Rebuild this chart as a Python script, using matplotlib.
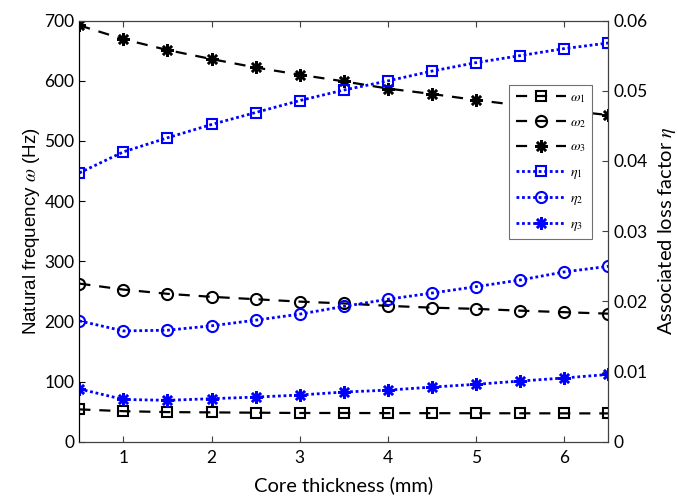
import matplotlib
matplotlib.use("Agg")
import matplotlib.pyplot as plt

thickness = [0.5, 1.0, 1.5, 2.0, 2.5, 3.0, 3.5, 4.0, 4.5, 5.0, 5.5, 6.0, 6.5]
omega1 = [54, 51, 49.5, 49, 48.5, 48, 48, 47.8, 47.7, 47.6, 47.5, 47.4, 47.3]
omega2 = [263, 253, 246, 241, 237, 233, 230, 226, 223, 221, 218, 215.5, 213]
omega3 = [692, 669, 651, 636, 622, 610, 599, 587, 578, 568, 559, 551, 543]
eta1 = [0.0383, 0.0413, 0.0433, 0.0452, 0.0469, 0.0486, 0.0501, 0.0514, 0.0528, 0.0540, 0.0550, 0.0560, 0.0568]
eta2 = [0.01723, 0.0158, 0.0159, 0.01653, 0.01733, 0.01819, 0.01929, 0.02031, 0.02119, 0.0221, 0.02305, 0.0242, 0.0250]
eta3 = [0.00754, 0.00604, 0.00592, 0.00615, 0.00638, 0.00667, 0.0071, 0.00737, 0.0078, 0.0082, 0.00866, 0.0091, 0.0096]

plt.rcParams['font.family'] = ['Lato', 'DejaVu Sans']
plt.rcParams['mathtext.fontset'] = 'stix'

fig = plt.figure(figsize=(6.78, 5.01), dpi=100)
ax = fig.add_axes([0.117, 0.118, 0.78, 0.841])
ax2 = ax.twinx()

asterisk = (8, 2, 0)
ms = 7
lw = 1.6
dash = (0, (5, 4))
dot = (0, (1, 1))

l1, = ax.plot(thickness, omega1, color='black', ls=dash, lw=lw, marker='s', mfc='none', mec='black', ms=ms, mew=1.5)
l2, = ax.plot(thickness, omega2, color='black', ls=dash, lw=lw, marker='o', mfc='none', mec='black', ms=ms + 1, mew=1.5)
l3, = ax.plot(thickness, omega3, color='black', ls=dash, lw=lw, marker=asterisk, mec='black', ms=ms + 2, mew=1.8)

l4, = ax2.plot(thickness, eta1, color='blue', ls=dot, lw=lw + 0.4, marker='s', mfc='none', mec='blue', ms=ms, mew=1.5)
l5, = ax2.plot(thickness, eta2, color='blue', ls=dot, lw=lw + 0.4, marker='o', mfc='none', mec='blue', ms=ms + 1, mew=1.5)
l6, = ax2.plot(thickness, eta3, color='blue', ls=dot, lw=lw + 0.4, marker=asterisk, mec='blue', ms=ms + 2, mew=1.8)

ax.set_xlim(0.5, 6.5)
ax.set_ylim(0, 700)
ax2.set_ylim(0, 0.06)
ax.set_xticks([1, 2, 3, 4, 5, 6])
ax.set_yticks(range(0, 701, 100))
ax2.set_yticks([0, 0.01, 0.02, 0.03, 0.04, 0.05, 0.06])
ax2.set_yticklabels(['0', '0.01', '0.02', '0.03', '0.04', '0.05', '0.06'])

for a in (ax, ax2):
    a.tick_params(direction='in', labelsize=12.5, length=4, width=0.8)
ax.tick_params(axis='x', top=True, colors='#404040', labelcolor='black', pad=6)
ax.tick_params(axis='y', colors='black', labelcolor='black')
ax2.tick_params(axis='y', colors='#404040', labelcolor='black')

ax2.spines['left'].set_color('black')
ax2.spines['right'].set_color('#404040')
ax2.spines['top'].set_color('#404040')
ax2.spines['bottom'].set_color('#404040')

ax.set_xlabel('Core thickness (mm)', fontsize=14.5, labelpad=7)
ax.set_ylabel(r'Natural frequency $\omega$ (Hz)', fontsize=13.5, labelpad=2,
              family=['Liberation Sans', 'DejaVu Sans'])
ax2.set_ylabel(r'Associated loss factor $\eta$', fontsize=14.5, labelpad=6)

handles = [l1, l2, l3, l4, l5, l6]
labels = [r'$\omega_1$', r'$\omega_2$', r'$\omega_3$', r'$\eta_1$', r'$\eta_2$', r'$\eta_3$']
leg = ax2.legend(handles, labels, loc='upper right', bbox_to_anchor=(0.970, 0.848),
                 fontsize=10, frameon=True, fancybox=False, framealpha=1, handlelength=3.6,
                 labelspacing=0.8, borderpad=0.45, handletextpad=0.3, borderaxespad=0)
leg.get_frame().set_edgecolor('#707070')
leg.get_frame().set_linewidth(0.8)

fig.savefig('out.png', dpi=100)
